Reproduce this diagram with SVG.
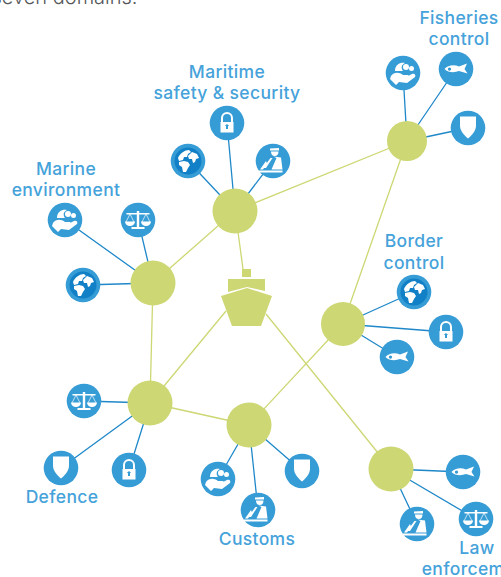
<svg xmlns="http://www.w3.org/2000/svg" xmlns:xlink="http://www.w3.org/1999/xlink" width="501" height="577" viewBox="0 0 501 577">
<style>
.g{fill:#cdd773}
.b{fill:#369cd6}
.w{fill:#fff}
.gl{stroke:#cdd773;stroke-width:1.3;fill:none}
.bl{stroke:#1f88c9;stroke-width:1.3;fill:none}
.t{font-family:"Inter","Liberation Sans",sans-serif;font-size:17.5px;font-weight:500;letter-spacing:.35px;fill:#45a2da;text-anchor:middle}
</style>
<defs>
<g id="lock"><circle class="b" r="17.300"/><path d="M-6-1v-4a6 6 0 0 1 12 0v4h-2v-4a4 4 0 0 0-8 0v4z" class="w"/><path class="w" fill-rule="evenodd" d="M-6.500-1h13v10.500h-13zM-1 3v3h2v-3h1.200L0 1-2.200 3z"/></g>
<g id="fish"><circle class="b" r="17.300"/><path class="w" fill-rule="evenodd" d="M-11.500 0C-8-4-2-4.500 3-2.500L11-5.500 8.500 0 11.500 4.500 3 2C-2 4-8 3.500-11.500 0zM-6.500-1.500a1.600 1.600 0 1 0 .01 0z"/></g>
<g id="shield"><circle class="b" r="17.300"/><path class="w" d="M-8-11.500H8V-2C8 3 3 8 0 10.500-3 8-8 3-8-2z"/></g>
<g id="scales"><circle class="b" r="17.300"/><path class="w" d="M-11.500-7H-1.200V-9H1.200V-7H11.500V-5.500H1.200V7H6.500V9H-6.500V7H-1.200V-5.500H-11.500z"/><path class="w" d="M-13 1.500H-3A5 4.500 0 0 1-13 1.500zM3 1.500H13A5 4.500 0 0 1 3 1.500z"/><path d="M-8-6-12 2M-8-6-4 2M8-6 4 2M8-6 12 2" stroke="#fff" stroke-width=".7" fill="none"/></g>
<g id="globe"><circle class="b" r="17.300"/><circle fill="#1180c6" r="13.500"/><path class="w" d="M-10-3C-8-8-3-11 1-11L3-9 0-7-1-4-4-4-5-1-9 0zM-9 1-4 0 0 1 2 4 0 7-2 11-5 11-6 6-9 4zM0-5 4-9 9-7 11-3 8-2 7 1 5 2 4-2 1-2z"/></g>
<g id="hands"><circle class="b" r="17.300"/><path class="w" d="M-8-2C-8-9-2-11 2-10-2-8-2-5 0-2zM3-9A3 3 0 1 1 3-3 3 3 0 1 1 3-9zM8.500-7A2.500 2.500 0 1 1 8.500-2 2.500 2.500 0 1 1 8.500-7zM-12 3C-9-1-4-1 0 2H4C6.500 2 6.500 4.500 4 4.500L1 5 9 1C12 0 13 2.500 12 4L4 10-4 9-7 12-13 6z"/></g>
<g id="officer"><circle class="b" r="17.300"/><path class="w" d="M-3-12.500 6-13V-10.500H-3zM-2-9.500H5.500C5.500-6.500 4-5 1.800-5-.5-5-2-6.500-2-9.500z"/><path class="w" d="M.5-4.500 8-3.500 9.500 8.500H-1.500L3.500-3zM-2.500-3H-.5L-7 7H-10zM-13 8.500-7 0-6 2.500-10 8.500zM-14 9.500H9.500V11.500H-14z"/></g>
</defs>
<text x="-8.500" y="4" font-family="Inter,'Liberation Sans',sans-serif" font-size="20" font-weight="300" fill="#55575a">seven domains.</text>
<g id="connectors">
<path class="gl" d="M235 211 407 141M407 141 343 324M235 211 153 283M153 283 150 403M150 403 249 425M249 425 343 324M238 232 243 269M150 403 226 311M266 314 391 469"/>
<path class="bl" d="M235 211 227 123M235 211 188 161M235 211 273 161M153 283 65 220M153 283 138 220M153 283 83 285M407 141 403 73M407 141 456 69M407 141 468 128M343 324 414 292M343 324 446 332M343 324 397 357M150 403 84 401M150 403 61 468M150 403 129 470M249 425 218 479M249 425 258 510M249 425 302 471M391 469 463 472M391 469 476 519M391 469 417 524"/>
</g>
<g id="ship">
<rect class="g" x="242" y="269" width="9" height="8"/>
<path class="g" d="M228 279H265V291L247 287 228 292z"/>
<path class="g" d="M221 296 247 288 272 296 261 326H232z"/>
</g>
<g id="maritime-safety-security">
<circle class="g" cx="235" cy="211" r="22.500"/>
<use xlink:href="#lock" href="#lock" x="227" y="123"/><use href="#globe" xlink:href="#globe" x="188" y="161"/><use href="#officer" xlink:href="#officer" x="273" y="161"/>
<text class="t" x="227" y="78">Maritime</text><text class="t" x="227" y="99">safety &amp; security</text>
</g>
<g id="marine-environment">
<circle class="g" cx="153" cy="283" r="22.500"/>
<use href="#hands" xlink:href="#hands" x="65" y="220"/><use href="#scales" xlink:href="#scales" x="138" y="220"/><use href="#globe" xlink:href="#globe" x="83" y="285"/>
<text class="t" x="66" y="175">Marine</text><text class="t" x="66" y="196">environment</text>
</g>
<g id="fisheries-control">
<circle class="g" cx="407" cy="141" r="20"/>
<use href="#hands" xlink:href="#hands" x="403" y="73"/><use href="#fish" xlink:href="#fish" x="456" y="69"/><use href="#shield" xlink:href="#shield" x="468" y="128"/>
<text class="t" x="459" y="24">Fisheries</text><text class="t" x="459" y="45">control</text>
</g>
<g id="border-control">
<circle class="g" cx="343" cy="324" r="22"/>
<use href="#globe" xlink:href="#globe" x="414" y="292"/><use href="#lock" xlink:href="#lock" x="446" y="332"/><use href="#fish" xlink:href="#fish" x="397" y="357"/>
<text class="t" x="414" y="247">Border</text><text class="t" x="414" y="269">control</text>
</g>
<g id="defence">
<circle class="g" cx="150" cy="403" r="22.500"/>
<use href="#scales" xlink:href="#scales" x="84" y="401"/><use href="#shield" xlink:href="#shield" x="61" y="468"/><use href="#lock" xlink:href="#lock" x="129" y="470"/>
<text class="t" x="62" y="503">Defence</text>
</g>
<g id="customs">
<circle class="g" cx="249" cy="425" r="22.500"/>
<use href="#hands" xlink:href="#hands" x="218" y="479"/><use href="#officer" xlink:href="#officer" x="258" y="510"/><use href="#shield" xlink:href="#shield" x="302" y="471"/>
<text class="t" x="257" y="545">Customs</text>
</g>
<g id="law-enforcement">
<circle class="g" cx="391" cy="469" r="22.500"/>
<use href="#fish" xlink:href="#fish" x="463" y="472"/><use href="#scales" xlink:href="#scales" x="476" y="519"/><use href="#officer" xlink:href="#officer" x="417" y="524"/>
<text class="t" x="477" y="554">Law</text><text class="t" x="477" y="575">enforcement</text>
</g>
</svg>
